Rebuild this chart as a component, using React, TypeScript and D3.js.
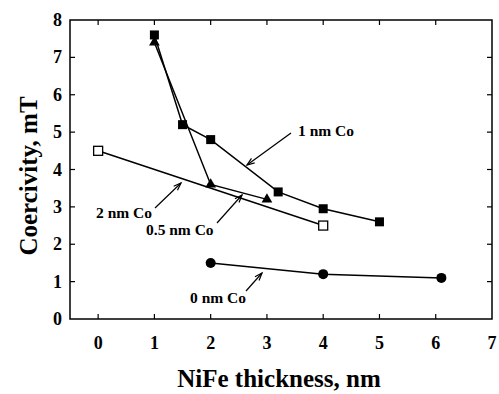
import React from "react";
import * as d3 from "d3";

// NiFe thickness (nm) vs coercivity (mT) for each Co thickness
const co1nmX = [1, 1.5, 2, 3.2, 4, 5];
const co1nmY = [7.6, 5.2, 4.8, 3.4, 2.95, 2.6];
const co05nmX = [1, 2, 3];
const co05nmY = [7.4, 3.6, 3.2];
const co2nmX = [0, 4];
const co2nmY = [4.5, 2.5];
const co0nmX = [2, 4, 6.1];
const co0nmY = [1.5, 1.2, 1.1];

const xTicks = [0, 1, 2, 3, 4, 5, 6, 7];
const yTicks = [0, 1, 2, 3, 4, 5, 6, 7, 8];

const W = 499;
const H = 394;
const left = 70;
const right = 492;
const top = 20;
const bottom = 319;

const font = "'Liberation Serif', 'Times New Roman', serif";

export default function App() {
  const x = d3.scaleLinear().domain([-0.5, 7]).range([left, right]);
  const y = d3.scaleLinear().domain([0, 8]).range([bottom, top]);
  const line = d3.line<[number, number]>().x(d => x(d[0])).y(d => y(d[1]));
  const zip = (xs: number[], ys: number[]) => xs.map((v, i) => [v, ys[i]] as [number, number]);

  const s1 = zip(co1nmX, co1nmY);
  const s05 = zip(co05nmX, co05nmY);
  const s2 = zip(co2nmX, co2nmY);
  const s0 = zip(co0nmX, co0nmY);

  const tri = d3.symbol().type(d3.symbolTriangle).size(50)()!;

  // label + arrow (pixel positions of the annotations)
  const notes = [
    { text: "1 nm Co", tx: 298, ty: 136, from: [291, 133], to: [247, 165] },
    { text: "2 nm Co", tx: 96, ty: 218, from: [155, 208], to: [181, 183] },
    { text: "0.5 nm Co", tx: 146, ty: 235, from: [217, 223], to: [242, 195] },
    { text: "0 nm Co", tx: 190, ty: 303, from: [246, 291], to: [262, 273] },
  ];

  const arrowHead = (fx: number, fy: number, tx: number, ty: number) => {
    const a = Math.atan2(ty - fy, tx - fx);
    const len = 8;
    const sp = 0.35;
    const p1 = [tx - len * Math.cos(a - sp), ty - len * Math.sin(a - sp)];
    const p2 = [tx - len * Math.cos(a + sp), ty - len * Math.sin(a + sp)];
    return `M${p1[0]},${p1[1]}L${tx},${ty}L${p2[0]},${p2[1]}`;
  };

  return (
    <svg width={W} height={H} style={{ position: "absolute", left: 0, top: 0, background: "#fff" }}>
      <rect x={left} y={top} width={right - left} height={bottom - top} fill="none" stroke="#000" strokeWidth={1.5} />
      {xTicks.filter(t => t < 7).map(t => (
        <g key={"xt" + t}>
          <line x1={x(t)} x2={x(t)} y1={bottom} y2={bottom - 5} stroke="#000" strokeWidth={1.2} />
          <line x1={x(t)} x2={x(t)} y1={top} y2={top + 5} stroke="#000" strokeWidth={1.2} />
        </g>
      ))}
      {yTicks.filter(t => t > 0 && t < 8).map(t => (
        <g key={"yt" + t}>
          <line x1={left} x2={left + 5} y1={y(t)} y2={y(t)} stroke="#000" strokeWidth={1.2} />
          <line x1={right} x2={right - 5} y1={y(t)} y2={y(t)} stroke="#000" strokeWidth={1.2} />
        </g>
      ))}
      {xTicks.map(t => (
        <text key={"xl" + t} x={x(t)} y={349} textAnchor="middle" fontFamily={font} fontWeight="bold" fontSize={18}>
          {t}
        </text>
      ))}
      {yTicks.map(t => (
        <text key={"yl" + t} x={62} y={y(t) + 6} textAnchor="end" fontFamily={font} fontWeight="bold" fontSize={18}>
          {t}
        </text>
      ))}
      <text x={279} y={387} textAnchor="middle" fontFamily={font} fontWeight="bold" fontSize={25}>
        NiFe thickness, nm
      </text>
      <text
        transform={`translate(37,176) rotate(-90)`}
        textAnchor="middle"
        fontFamily={font}
        fontWeight="bold"
        fontSize={25}
      >
        Coercivity, mT
      </text>

      <g fill="none" stroke="#000" strokeWidth={1.5}>
        <path d={line(s1)!} />
        <path d={line(s05)!} />
        <path d={line(s2)!} />
        <path d={line(s0)!} />
      </g>

      {s1.map((d, i) => (
        <rect key={"sq" + i} x={x(d[0]) - 4.5} y={y(d[1]) - 4.5} width={9} height={9} fill="#000" />
      ))}
      {s05.map((d, i) => (
        <path key={"tr" + i} d={tri} transform={`translate(${x(d[0])},${y(d[1])})`} fill="#000" />
      ))}
      {s2.map((d, i) => (
        <rect key={"os" + i} x={x(d[0]) - 4.5} y={y(d[1]) - 4.5} width={9} height={9} fill="#fff" stroke="#000" strokeWidth={1.3} />
      ))}
      {s0.map((d, i) => (
        <circle key={"ci" + i} cx={x(d[0])} cy={y(d[1])} r={5} fill="#000" />
      ))}

      {notes.map(n => (
        <g key={n.text}>
          <text x={n.tx} y={n.ty} fontFamily={font} fontWeight="bold" fontSize={15.5}>
            {n.text}
          </text>
          <line x1={n.from[0]} y1={n.from[1]} x2={n.to[0]} y2={n.to[1]} stroke="#000" strokeWidth={1.2} />
          <path d={arrowHead(n.from[0], n.from[1], n.to[0], n.to[1])} fill="none" stroke="#000" strokeWidth={1.2} />
        </g>
      ))}
    </svg>
  );
}
